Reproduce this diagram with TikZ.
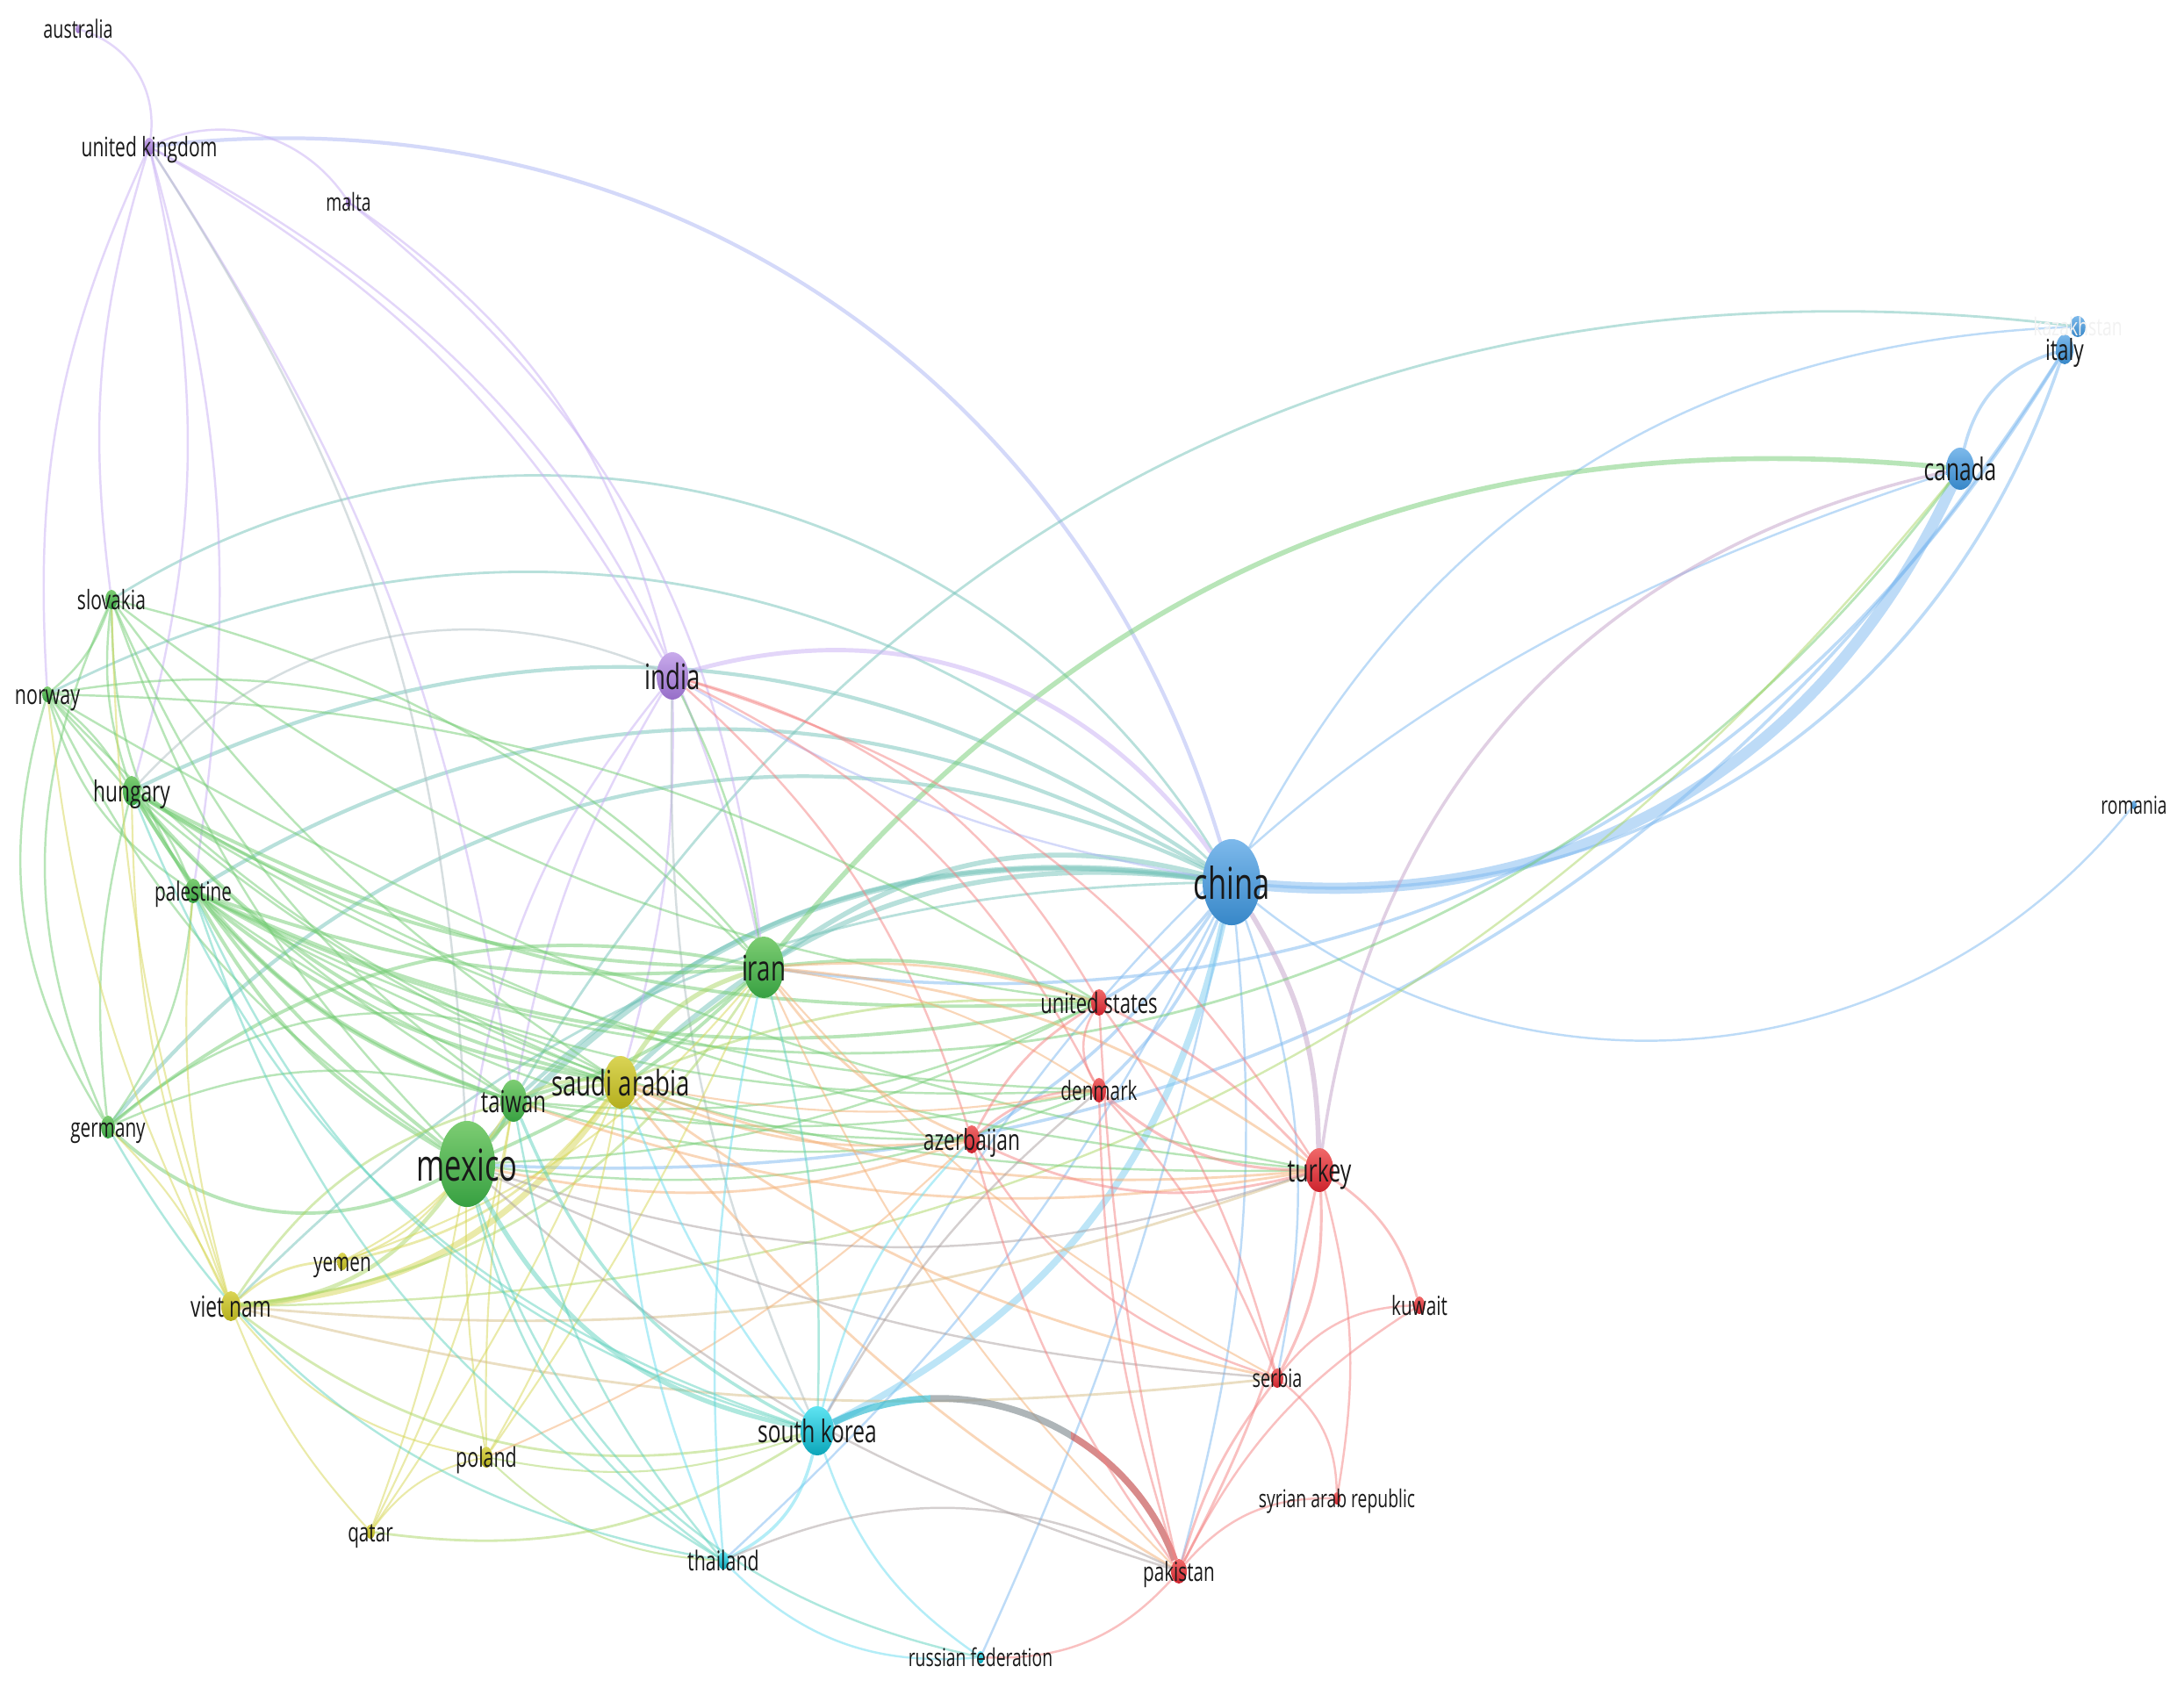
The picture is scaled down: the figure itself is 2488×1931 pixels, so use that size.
\documentclass[tikz,border=0pt]{standalone}
\usepackage{fontspec}
\setmainfont{Open Sans}
\usepackage{graphicx}
\usetikzlibrary{shapes.geometric}
\pgfdeclarelayer{bg}
\pgfsetlayers{bg,main}
% node colours (top / bottom)
\definecolor{gT}{RGB}{125,205,115}\definecolor{gB}{RGB}{55,160,65}
\definecolor{bT}{RGB}{125,185,235}\definecolor{bB}{RGB}{55,135,200}
\definecolor{rT}{RGB}{240,105,105}\definecolor{rB}{RGB}{205,35,45}
\definecolor{yT}{RGB}{218,212,85}\definecolor{yB}{RGB}{180,175,30}
\definecolor{pT}{RGB}{200,170,235}\definecolor{pB}{RGB}{150,110,200}
\definecolor{cT}{RGB}{95,228,242}\definecolor{cB}{RGB}{10,165,185}
% edge colours
\definecolor{eG}{RGB}{115,205,115}
\definecolor{eB}{RGB}{125,185,240}
\definecolor{eR}{RGB}{245,130,130}
\definecolor{eY}{RGB}{215,215,85}
\definecolor{eP}{RGB}{200,175,245}
\definecolor{eC}{RGB}{105,220,240}
\definecolor{eO}{RGB}{245,175,115}
\definecolor{eT}{RGB}{115,195,185}
\definecolor{eV}{RGB}{195,160,200}
\definecolor{eL}{RGB}{170,215,100}
\definecolor{eA}{RGB}{95,210,190}
\definecolor{eK}{RGB}{170,160,160}
\definecolor{eI}{RGB}{170,180,245}
\definecolor{eBC}{RGB}{125,205,240}
\definecolor{eYR}{RGB}{215,190,135}
\definecolor{eGP}{RGB}{175,190,195}
\definecolor{sk1}{RGB}{60,190,210}
\definecolor{sk2}{RGB}{140,150,155}
\definecolor{sk3}{RGB}{200,90,90}
\definecolor{lblc}{RGB}{25,25,25}
\tikzset{E/.style={draw opacity=0.5,line cap=round}}
\newcommand\dotn[6]{\node[ellipse,inner sep=0pt,minimum width=#4*0.02cm,minimum height=#5*0.02cm,top color=#6T,bottom color=#6B,draw=none] (#1) at (#2,#3) {};}
\newcommand\lbln[4][lblc]{\pgfmathsetmacro\fsz{#3*0.2845}\path (#2.center) ++(0,{0.38*#3}) node[anchor=base,inner sep=0pt,text=#1,font=\fontsize{\fsz pt}{\fsz pt}\selectfont] (#2-l) {\scalebox{0.69}[1]{#4}};}
\newcommand\EL[3]{\foreach \ea/\eb/\ek in {#3}{\draw[E,draw=#1,line width=#2] (\ea) to[bend left=\ek] (\eb);}}
\begin{document}
\begin{tikzpicture}[x=0.01cm,y=-0.01cm]
\useasboundingbox (0,0) rectangle (2488,1931);
% ---------------- nodes
\dotn{aus}{89}{33}{3}{5}{p}
\dotn{uk}{170}{167}{6}{10}{p}
\dotn{mal}{397}{230}{3}{6}{p}
\dotn{ind}{766}{770}{18}{27}{p}
\dotn{slo}{127}{683}{7}{11}{g}
\dotn{nor}{54}{791}{6}{9}{g}
\dotn{hun}{150}{901}{10}{17}{g}
\dotn{pal}{220}{1015}{9}{14}{g}
\dotn{ger}{123}{1284}{8}{13}{g}
\dotn{irn}{870}{1102}{23}{35}{g}
\dotn{twn}{585}{1254}{15}{24}{g}
\dotn{mex}{532}{1326}{32}{49}{g}
\dotn{sau}{707}{1233}{19}{30}{y}
\dotn{yem}{390}{1437}{6}{10}{y}
\dotn{vie}{263}{1488}{11}{17}{y}
\dotn{pol}{554}{1660}{7}{12}{y}
\dotn{qat}{422}{1745}{5}{8}{y}
\dotn{tha}{824}{1778}{6}{10}{c}
\dotn{sko}{931}{1630}{19}{28}{c}
\dotn{rus}{1117}{1888}{4}{7}{c}
\dotn{pak}{1343}{1790}{9}{14}{r}
\dotn{syr}{1523}{1707}{4}{7}{r}
\dotn{ser}{1455}{1570}{7}{11}{r}
\dotn{kuw}{1617}{1487}{6}{10}{r}
\dotn{tur}{1503}{1333}{16}{25}{r}
\dotn{aze}{1107}{1298}{9}{16}{r}
\dotn{den}{1252}{1242}{8}{14}{r}
\dotn{usa}{1252}{1142}{9}{15}{r}
\dotn{chn}{1403}{1005}{33}{49}{b}
\dotn{can}{2233}{534}{16}{24}{b}
\dotn{ita}{2352}{398}{10}{17}{b}
\dotn{kaz}{2367}{372}{9}{12}{b}
\dotn{rom}{2431}{917}{3}{5}{b}
% ---------------- edges
\begin{pgfonlayer}{bg}
\fill[white] (0,0) rectangle (2488,1931);
% blue
\EL{eB}{3.6pt}{can/chn/35}
\EL{eB}{1.0pt}{ita/chn/38,can/ita/30,ita/irn/33,ita/mex/30,chn/usa/10,chn/den/12,chn/aze/12}
\EL{eB}{0.7pt}{chn/kaz/30,rom/chn/45,chn/ser/15,chn/rus/6,chn/tha/10,chn/pak/10,sko/can/22}
\EL{eBC}{2.2pt}{chn/sko/25}
\EL{eV}{1.6pt}{chn/tur/15}
\EL{eV}{1.0pt}{tur/can/35}
\EL{eI}{1.2pt}{uk/chn/40}
\EL{eT}{2.0pt}{mex/chn/28}
\EL{eT}{1.6pt}{irn/chn/25,sau/chn/25}
\EL{eT}{1.2pt}{twn/chn/25,hun/chn/30,pal/chn/30,ger/chn/38}
\EL{eT}{0.8pt}{nor/chn/35,vie/chn/22,slo/chn/45,twn/kaz/33}
\EL{eG}{1.6pt}{irn/can/28}
\EL{eG}{0.8pt}{pal/can/-40}
\EL{eL}{0.7pt}{vie/can/-25}
% purple
\EL{eP}{0.7pt}{aus/uk/40,uk/mal/40,uk/ind/15,mal/ind/20,mal/irn/22,uk/irn/25,uk/twn/12,slo/uk/12,nor/uk/14,uk/hun/14,uk/pal/12,ind/mex/-15,ind/twn/-10,ind/sau/8}
\EL{eGP}{0.7pt}{uk/mex/15,hun/ind/35,ind/sko/-12}
\EL{eP}{1.4pt}{ind/chn/35}
\EL{eI}{0.7pt}{ind/chn/-10}
\EL{eR}{0.7pt}{ind/tur/20,ind/usa/22,ind/aze/15,ind/den/18}
\EL{eG}{0.7pt}{ind/irn/8}
% green
\EL{eG}{1.1pt}{ger/irn/25,mex/ger/35,hun/irn/-15,pal/irn/-12,pal/twn/-15,hun/twn/-20,pal/mex/-15,hun/mex/-10,irn/twn/12,irn/mex/10,twn/mex/10,pal/sau/-15,hun/sau/-18,pal/usa/-18,hun/usa/-15,irn/usa/12}
\EL{eG}{0.7pt}{slo/nor/15,slo/hun/-12,slo/pal/-15,slo/ger/-24,nor/hun/10,nor/pal/-20,nor/ger/-24,hun/pal/10,hun/ger/-10,pal/ger/15,slo/irn/15,slo/twn/-15,slo/mex/-12,slo/sau/-10,slo/usa/-15,nor/irn/30,nor/twn/-10,nor/mex/-15,nor/sau/-12,nor/usa/15,nor/tur/-10,hun/aze/-18,hun/tur/-12,hun/den/-15,pal/aze/-18,pal/den/-15,pal/tur/-15,ger/twn/20,ger/sau/35,twn/usa/-15,twn/den/-10,mex/usa/-12,mex/den/-14,twn/aze/-12}
\EL{eL}{1.5pt}{irn/sau/-20}
\EL{eL}{1.1pt}{twn/sau/15,mex/sau/20}
% yellow
\EL{eY}{2.0pt}{sau/vie/25}
\EL{eL}{1.3pt}{mex/vie/25}
\EL{eY}{0.8pt}{vie/yem/20,yem/sau/-20}
\EL{eL}{0.8pt}{vie/twn/20,irn/vie/25}
\EL{eY}{0.6pt}{vie/pol/-20,vie/qat/-10,vie/hun/10,vie/slo/8,vie/pal/10,vie/ger/-10,vie/nor/10,yem/mex/-15,yem/twn/-15,yem/irn/-15,pol/sau/-10,pol/mex/5,pol/twn/5,pol/irn/-5,pol/qat/-20,qat/sau/-5,qat/mex/-5,qat/twn/-8}
\EL{eYR}{0.8pt}{vie/ser/-10,vie/tur/-12}
\EL{eL}{0.8pt}{qat/sko/-20,sau/usa/12,vie/sko/-25}
\EL{eL}{0.6pt}{pol/sko/-15,pol/tha/-20}
\EL{eO}{0.6pt}{pol/aze/-10}
\EL{eO}{0.8pt}{sau/aze/-15,sau/tur/-12,sau/ser/-12,sau/pak/-10,irn/usa/10,irn/aze/-15,irn/tur/15,mex/aze/-15,twn/tur/-14}
\EL{eO}{0.6pt}{sau/den/-10,irn/den/12,irn/ser/-10,irn/pak/-10}
\EL{eK}{0.7pt}{mex/tur/-18,mex/ser/-10,mex/pak/-12}
% cyan
\begin{scope}\clip (0,0) rectangle (1060,1931);\draw[draw=sk1,draw opacity=0.7,line width=2.2pt] (sko) to[bend left=48] (pak);\end{scope}
\begin{scope}\clip (1060,0) rectangle (1220,1931);\draw[draw=sk2,draw opacity=0.7,line width=2.2pt] (sko) to[bend left=48] (pak);\end{scope}
\begin{scope}\clip (1220,0) rectangle (2488,1931);\draw[draw=sk3,draw opacity=0.7,line width=2.2pt] (sko) to[bend left=48] (pak);\end{scope}
\EL{eC}{1.0pt}{sko/tha/25}
\EL{eC}{0.7pt}{sko/rus/-18,tha/rus/-25,irn/tha/-8,sau/tha/-10,sau/sko/-8,sko/aze/15}
\EL{eA}{1.5pt}{mex/sko/-25}
\EL{eA}{1.0pt}{twn/sko/-20}
\EL{eA}{0.7pt}{irn/sko/8,pal/sko/-25,hun/sko/-25,pal/tha/-20,mex/tha/-20,twn/tha/-15,ger/tha/-25,mex/rus/-30}
\EL{eK}{0.7pt}{sko/den/10,pak/tha/-25}
% red
\EL{eR}{0.9pt}{tur/ser/15,tur/den/20}
\EL{eR}{0.8pt}{tur/kuw/20,tur/pak/8,tur/aze/20,usa/tur/10,aze/den/20,aze/usa/15,pak/ser/10}
\EL{eR}{0.7pt}{tur/syr/12,ser/kuw/25,pak/kuw/15,ser/syr/25,pak/syr/25,pak/usa/5,pak/den/8,pak/aze/10,den/usa/30,aze/ser/-20,usa/ser/10,den/ser/10,rus/pak/-25}
\end{pgfonlayer}
% ---------------- labels
\lbln{aus}{28.6}{australia}
\lbln{uk}{30.5}{united kingdom}
\lbln{mal}{28}{malta}
\lbln{ind}{40}{india}
\lbln{slo}{30.5}{slovakia}
\lbln{nor}{31}{norway}
\lbln{hun}{33}{hungary}
\lbln{pal}{30}{palestine}
\lbln{ger}{30}{germany}
\lbln{irn}{40}{iran}
\lbln{twn}{34.5}{taiwan}
\lbln{mex}{50}{mexico}
\lbln{sau}{40}{saudi arabia}
\lbln{yem}{30}{yemen}
\lbln{vie}{33}{viet nam}
\lbln{pol}{31}{poland}
\lbln{qat}{30}{qatar}
\lbln{tha}{31}{thailand}
\lbln{sko}{35.5}{south korea}
\lbln{rus}{28}{russian federation}
\lbln{pak}{30}{pakistan}
\lbln{syr}{28}{syrian arab republic}
\lbln{ser}{28.6}{serbia}
\lbln{kuw}{30}{kuwait}
\lbln{tur}{36}{turkey}
\lbln{aze}{33}{azerbaijan}
\lbln{den}{30}{denmark}
\lbln{usa}{32}{united states}
\lbln{chn}{50}{china}
\lbln{can}{35.5}{canada}
\lbln[black!5]{kaz}{28}{kazakhstan}
\lbln{ita}{33}{italy}
\lbln{rom}{28}{romania}
\end{tikzpicture}
\end{document}
